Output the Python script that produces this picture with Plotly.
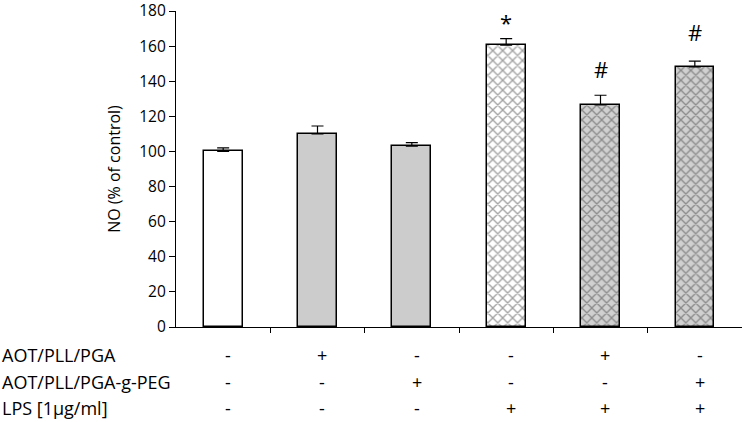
import plotly.graph_objects as go

groups = [0, 1, 2, 3, 4, 5]
no_pct = [100, 110, 103, 160.5, 126.5, 148.2]
sem = [2, 4.5, 2, 3.8, 5.5, 3.3]
fills = ['white', '#cccccc', '#cccccc', 'white', '#d0d0d0', '#d0d0d0']
hatch = ['', '', '', 'x', 'x', 'x']
marks = ['', '', '', '*', '#', '#']
mark_y = [0, 0, 0, 174, 147, 168]

row_labels = ['AOT/PLL/PGA', 'AOT/PLL/PGA-g-PEG', 'LPS [1\u03bcg/ml]']
row_signs = [
    ['-', '+', '-', '-', '+', '-'],
    ['-', '-', '+', '-', '-', '+'],
    ['-', '-', '-', '+', '+', '+'],
]
row_pix = [355, 382, 408]  # pixel rows of the table below the axis

FONT = 'Open Sans'
top, bottom = 11, 95
plot_h = 422 - top - bottom

fig = go.Figure()
fig.add_trace(go.Bar(
    x=groups, y=no_pct, width=0.41,
    marker=dict(color=fills, line=dict(color='black', width=1.5),
                pattern=dict(shape=hatch, fgcolor='black', bgcolor=fills,
                             size=7, solidity=0.35, fillmode='overlay')),
    error_y=dict(type='data', symmetric=False, array=sem,
                 arrayminus=[0] * 6, color='black', thickness=1.2, width=6),
))

ann = []
for g, m, y in zip(groups, marks, mark_y):
    if m:
        ann.append(dict(x=g, y=y, xref='x', yref='y', text=m, showarrow=False,
                        font=dict(family=FONT, size=22, color='black')))
for lab, signs, py in zip(row_labels, row_signs, row_pix):
    yp = (422 - bottom - py) / plot_h
    ann.append(dict(x=-0.311, y=yp, xref='paper', yref='paper', text=lab,
                    xanchor='left', yanchor='middle', showarrow=False,
                    font=dict(family=FONT, size=18, color='black')))
    for g, s in zip(groups, signs):
        ann.append(dict(x=g + 0.05, y=yp, xref='x', yref='paper', text=s,
                        showarrow=False, yanchor='middle',
                        font=dict(family=FONT, size=18, color='black')))

fig.update_layout(
    width=742, height=422,
    margin=dict(l=176, r=0, t=top, b=bottom),
    paper_bgcolor='white', plot_bgcolor='white',
    showlegend=False, bargap=0,
    font=dict(family=FONT, size=16, color='black'),
    annotations=ann,
)
fig.update_xaxes(range=[-0.5, 5.5], showline=True, linecolor='black', linewidth=1.2,
                 tickmode='array', tickvals=[0.5, 1.5, 2.5, 3.5, 4.5, 5.5],
                 ticktext=[''] * 6, ticks='outside', ticklen=5, tickcolor='black',
                 showgrid=False, zeroline=False, automargin=False)
fig.update_yaxes(range=[0, 180], dtick=20, showline=True, linecolor='black', linewidth=1.2,
                 ticks='outside', ticklen=6, tickcolor='black', showgrid=False,
                 zeroline=False, tickfont=dict(size=15.5), automargin=False,
                 ticklabeloverflow='allow',
                 title=dict(text='NO (% of control)', font=dict(size=16), standoff=14))

# drop the page's default body margin so the figure sits at the window corner
fig.write_html('out.html', config={'displayModeBar': False},
               post_script="document.body.style.margin='0';")
